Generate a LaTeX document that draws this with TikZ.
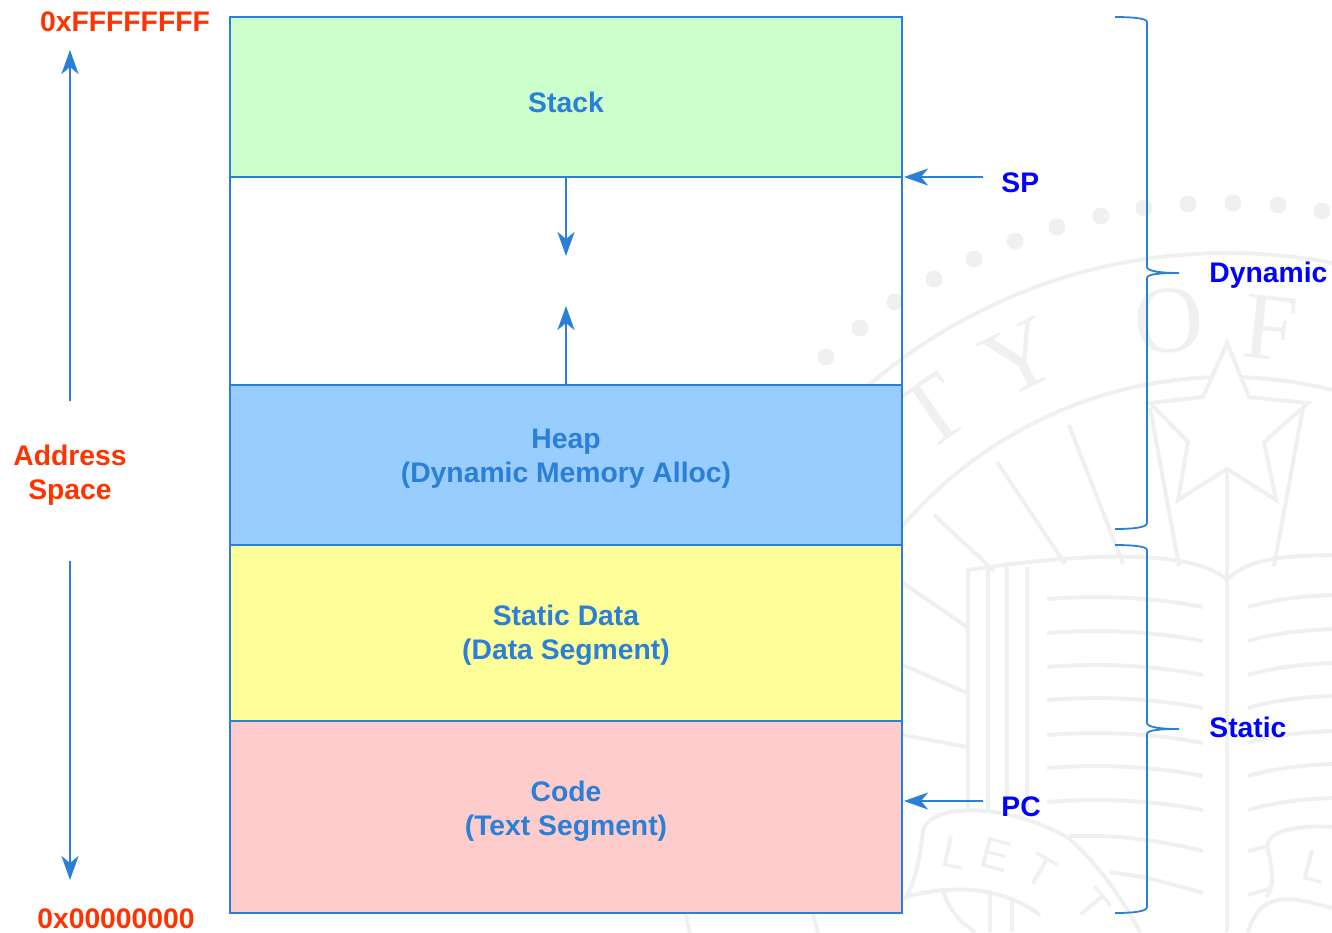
\documentclass[tikz,border=0pt]{standalone}
\usepackage{fontspec}
\setmainfont{Liberation Sans}
\newfontfamily\sealfont{Liberation Serif}
\usetikzlibrary{arrows.meta}
\definecolor{linecol}{HTML}{2A7FD6}
\definecolor{hexred}{HTML}{FF3300}
\definecolor{sidelabel}{HTML}{0000FF}
\definecolor{stackfill}{HTML}{CCFFCC}
\definecolor{heapfill}{HTML}{99CCFF}
\definecolor{datafill}{HTML}{FFFF99}
\definecolor{codefill}{HTML}{FFCCCC}
\definecolor{sealcol}{HTML}{F0F0F0}

\begin{document}
\begin{tikzpicture}[
  x=0.5pt, y=-0.5pt,
  every node/.style={font=\fontsize{14.15}{17}\selectfont\bfseries},
  segbox/.style={draw=linecol, line width=1.15pt, inner sep=0pt, outer sep=0pt,
                 minimum width=336pt},
  seglabel/.style={text=linecol, align=center, inner sep=0pt},
  addrlabel/.style={text=hexred, align=center, inner sep=0pt},
  sidetext/.style={text=sidelabel, anchor=west, inner sep=0pt},
  arr/.style={-{Stealth[length=12pt,width=8.5pt,inset=3.5pt]}, line width=1.25pt, color=linecol},
  bracket/.style={draw=linecol, line width=0.9pt},
  seal/.style={draw=sealcol, line width=2pt},
  sealtext/.style={font=\fontsize{48}{48}\selectfont\sealfont, text=sealcol, inner sep=0pt},
  ribbontext/.style={font=\fontsize{22}{22}\selectfont, text=sealcol, inner sep=0pt},
]
\useasboundingbox (0,0) rectangle (1332,932);
% ---- faint seal behind everything ----
\begin{scope}
  \clip (0,0) rectangle (1332,932);
  \foreach \dx/\dy in {826/357,860/328,895/302,934/279,974/259,1015/241,1057/227,
                       1101/216,1144/208,1188/204,1233/203,1278/205,1322/211}
    \fill[sealcol] (\dx,\dy) circle[radius=8.5];
  \draw[seal] (1227,805) circle[radius=552];
  \draw[seal] (1227,805) circle[radius=428];
  \draw[seal, fill=white] (1227,343) -- (1249,397) -- (1308,403) -- (1264,442) -- (1276,500)
              -- (1227,469) -- (1178,500) -- (1188,442) -- (1150,403) -- (1203,397) -- cycle;
  % book: spine, top edge, page edges and lines
  \draw[seal] (1227,469) -- (1227,932);
  \draw[seal] (968,810) -- (968,570) .. controls (1060,556) and (1190,545) .. (1227,580)
              .. controls (1250,555) and (1300,556) .. (1332,555);
  \foreach \px in {988,1007,1027}
    \draw[seal] (\px,567) -- (\px,810);
  \foreach \py in {599,633,667,700,735,768,802} {
    \draw[seal] (1047,\py) .. controls (1100,\py-4) and (1150,\py-2) .. (1203,\py+8);
    \draw[seal] (1248,\py+8) .. controls (1275,\py) and (1305,\py-3) .. (1332,\py-4);
  }
  \draw[seal] (1070,836) .. controls (1110,835) and (1150,838) .. (1203,851);
  \draw[seal] (1110,872) .. controls (1150,878) .. (1203,893);
  \draw[seal] (1248,851) -- (1268,846);
  \draw[seal] (1248,895) -- (1272,888);
  % rays above and beside the book
  \draw[seal] (934,515) -- (994,571);
  \draw[seal] (997,462) -- (1065,564);
  \draw[seal] (1069,425) -- (1123,564);
  \draw[seal] (1150,408) -- (1179,566);
  \draw[seal] (1303,408) -- (1274,566);
  \draw[seal] (903,583) -- (967,627);
  \draw[seal] (903,665) -- (967,693);
  \draw[seal] (903,735) -- (967,747);
  % ribbon
  \draw[seal] (905,900) .. controls (915,880) and (920,860) .. (923,830)
              .. controls (930,805) and (1000,800) .. (1067,837)
              .. controls (1095,860) and (1120,895) .. (1140,932);
  \draw[seal] (905,897) .. controls (950,885) and (1000,885) .. (1040,915);
  \draw[seal] (943,890) .. controls (950,915) and (965,925) .. (975,932);
  \draw[seal] (990,890) -- (990,932);
  \draw[seal] (1012,897) -- (1012,932);
  \draw[seal] (1332,827) .. controls (1300,825) and (1262,830) .. (1268,850)
              .. controls (1275,880) and (1272,890) .. (1266,897);
  \draw[seal] (1332,908) .. controls (1300,900) and (1262,885) .. (1248,932);
  \foreach \i/\lx/\ly/\rr/\ch in {1/932/412/35/T,2/1020/358/26/Y,3/1169/321/4/O,4/1270/328/-6/F}
    \node[sealtext, rotate=\rr] (sealtop\i) at (\lx,\ly) {\ch};
  \foreach \i/\lx/\ly/\rr/\ch in {1/955/853/-12/L,2/996/855/-15/E,3/1041/871/-30/T,4/1093/905/-50/T,5/1315/867/-15/L}
    \node[ribbontext, rotate=\rr] (sealrib\i) at (\lx,\ly) {\ch};
\end{scope}
% ---- memory segments, top to bottom ----
\node[segbox, fill=stackfill, minimum height=80pt] (stack) at (566,97) {};
\node[segbox, minimum height=104pt] (gap) at (566,281) {};
\node[segbox, fill=heapfill, minimum height=80pt] (heap) at (566,465) {};
\node[segbox, fill=datafill, minimum height=88pt] (data) at (566,633) {};
\node[segbox, fill=codefill, minimum height=96pt] (code) at (566,817) {};
\node[seglabel] (stacklabel) at (566,102) {Stack};
\node[seglabel] (heaplabel) at (566,459) {Heap\\(Dynamic Memory Alloc)};
\node[seglabel] (datalabel) at (566,635) {Static Data\\(Data Segment)};
\node[seglabel] (codelabel) at (566,811) {Code\\(Text Segment)};
% growth arrows in the gap
\coordinate (stackgrow) at (566,256);
\coordinate (heapgrow) at (566,306);
\draw[arr] (gap.north) -- (stackgrow);
\draw[arr] (gap.south) -- (heapgrow);
% ---- address column on the left ----
\node[addrlabel] (addrhigh) at (125,22) {0xFFFFFFFF};
\node[addrlabel] (addrlow) at (116,919) {0x00000000};
\node[addrlabel] (addrspace) at (70,475) {Address\\Space};
\coordinate (uptail) at (70,401);
\coordinate (uphead) at (70,50);
\coordinate (downtail) at (70,561);
\coordinate (downhead) at (70,880);
\draw[arr] (uptail) -- (uphead);
\draw[arr] (downtail) -- (downhead);
% ---- registers ----
\node[sidetext] (splabel) at (1001,183) {SP};
\node[sidetext] (pclabel) at (1001,807) {PC};
\coordinate (sptail) at (983,177);
\coordinate (pctail) at (983,801);
\draw[arr, shorten >=1pt] (sptail) -- (stack.south east);
\draw[arr, shorten >=1pt] (pctail) -- (pctail -| code.east);
% ---- braces on the right ----
\node[sidetext] (dynlabel) at (1209,275) {Dynamic};
\node[sidetext] (statlabel) at (1209,727) {Static};
\foreach \ya/\yb/\yc in {17/273/529,545/729/913}
  \draw[bracket] (1115,\ya) .. controls (1130,\ya) and (1147,\ya+1) .. (1147,\ya+5)
    -- (1147,\yb-6) .. controls (1147,\yb-2) and (1160,\yb) .. (1179,\yb)
    .. controls (1160,\yb) and (1147,\yb+1) .. (1147,\yb+5)
    -- (1147,\yc-6) .. controls (1147,\yc-1) and (1130,\yc) .. (1115,\yc);
\end{tikzpicture}
\end{document}
